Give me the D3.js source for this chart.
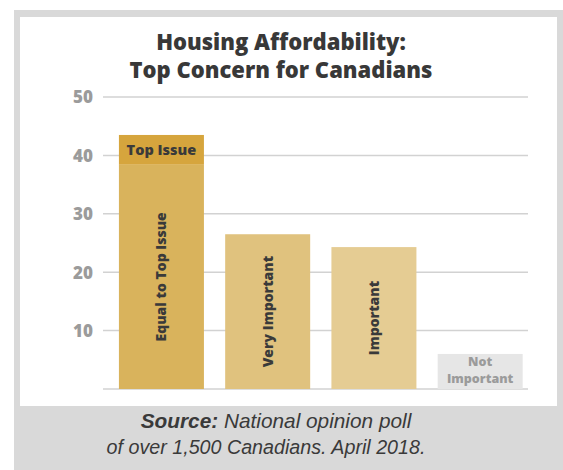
<!DOCTYPE html>
<html>
<head>
<meta charset="utf-8">
<script src="https://cdn.jsdelivr.net/npm/d3@7"></script>
<style>
  html, body { margin: 0; padding: 0; background: #ffffff; }
  svg { display: block; }
</style>
</head>
<body>
<svg id="chart" width="563" height="470"></svg>
<script>
// ---- data ----
const categories = ["Equal to Top Issue", "Very Important", "Important", "Not Important"];
const baseValues = [38.4, 26.5, 24.3, 6.0];
const topIssueValues = [5.1, 0, 0, 0];
const barColors = ["#d9b35c", "#e0c27e", "#e5cc93", "#e6e6e6"];
const topIssueColor = "#d6a53d";
const tickValues = [0, 10, 20, 30, 40, 50];
const titleLines = ["Housing Affordability:", "Top Concern for Canadians"];

const svg = d3.select("#chart");
const HEAVY = 800;

// frame
svg.append("rect").attr("x", 14).attr("y", 10).attr("width", 549).attr("height", 460).attr("fill", "#d9d9d9");
svg.append("rect").attr("x", 20).attr("y", 17).attr("width", 537).attr("height", 389).attr("fill", "#ffffff");

// title
svg.append("text")
  .attr("x", 281).attr("text-anchor", "middle")
  .attr("font-family", "'Open Sans', sans-serif").attr("font-weight", HEAVY)
  .attr("font-size", 22).attr("fill", "#383838")
  .selectAll("tspan").data(titleLines).join("tspan")
  .attr("x", 281).attr("y", (d, i) => 50 + i * 28).text(d => d);

// scales
const y = d3.scaleLinear().domain([0, 50]).range([389, 97]);
const x = d3.scaleBand().domain(categories).range([108.3, 533.3]).paddingInner(0.2).paddingOuter(0.1);

// gridlines
svg.append("g").selectAll("line").data(tickValues).join("line")
  .attr("x1", 103).attr("x2", 528)
  .attr("y1", d => y(d)).attr("y2", d => y(d))
  .attr("stroke", "#d2d2d2").attr("stroke-width", 1.5);

// y axis labels
const yAxis = d3.axisLeft(y).tickValues(tickValues.filter(d => d > 0)).tickSize(0).tickPadding(0);
const gAxis = svg.append("g").attr("transform", "translate(93,0)").call(yAxis);
gAxis.select(".domain").remove();
gAxis.selectAll("text")
  .attr("font-family", "'Open Sans', sans-serif").attr("font-weight", HEAVY)
  .attr("font-size", 17).attr("fill", "#9b9b9b").attr("dy", "0.35em");

// bars
svg.append("g").selectAll("rect").data(categories).join("rect")
  .attr("x", d => x(d)).attr("width", x.bandwidth())
  .attr("y", (d, i) => y(baseValues[i])).attr("height", (d, i) => y(0) - y(baseValues[i]))
  .attr("fill", (d, i) => barColors[i]);

// top issue segment
svg.append("g").selectAll("rect").data(categories.filter((d, i) => topIssueValues[i] > 0)).join("rect")
  .attr("x", d => x(d)).attr("width", x.bandwidth())
  .attr("y", d => { const i = categories.indexOf(d); return y(baseValues[i] + topIssueValues[i]); })
  .attr("height", d => { const i = categories.indexOf(d); return y(baseValues[i]) - y(baseValues[i] + topIssueValues[i]); })
  .attr("fill", topIssueColor);

svg.append("text")
  .attr("x", x(categories[0]) + x.bandwidth() / 2)
  .attr("y", (y(baseValues[0]) + y(baseValues[0] + topIssueValues[0])) / 2)
  .attr("dy", "0.35em").attr("text-anchor", "middle")
  .attr("font-family", "'Open Sans', sans-serif").attr("font-weight", HEAVY)
  .attr("font-size", 14.5).attr("fill", "#3a3a3a").text("Top Issue");

// rotated labels for first three bars
categories.slice(0, 3).forEach((c, i) => {
  const cx = x(c) + x.bandwidth() / 2;
  const cy = (y(0) + y(baseValues[i])) / 2;
  svg.append("text")
    .attr("transform", `translate(${cx},${cy}) rotate(-90)`)
    .attr("dy", "0.35em").attr("text-anchor", "middle")
    .attr("font-family", "'Open Sans', sans-serif").attr("font-weight", HEAVY)
    .attr("font-size", 14).attr("fill", "#3a3a3a").text(c);
});

// Not Important label
const niWords = categories[3].split(" ");
svg.append("text")
  .attr("text-anchor", "middle")
  .attr("font-family", "'Open Sans', sans-serif").attr("font-weight", HEAVY)
  .attr("font-size", 12.5).attr("fill", "#9b9b9b")
  .selectAll("tspan").data(niWords).join("tspan")
  .attr("x", x(categories[3]) + x.bandwidth() / 2)
  .attr("y", (d, i) => 366 + i * 17).text(d => d);

// footer
const f1 = svg.append("text").attr("x", 276).attr("y", 428).attr("text-anchor", "middle")
  .attr("font-family", "'Liberation Sans', Arial, sans-serif").attr("font-style", "italic")
  .attr("font-size", 20.8).attr("fill", "#3a3a3a");
f1.append("tspan").attr("font-weight", 700).text("Source:");
f1.append("tspan").text(" National opinion poll");
svg.append("text").attr("x", 266).attr("y", 454).attr("text-anchor", "middle")
  .attr("font-family", "'Liberation Sans', Arial, sans-serif").attr("font-style", "italic")
  .attr("font-size", 19.7).attr("fill", "#3a3a3a")
  .text("of over 1,500 Canadians. April 2018.");
</script>
</body>
</html>
